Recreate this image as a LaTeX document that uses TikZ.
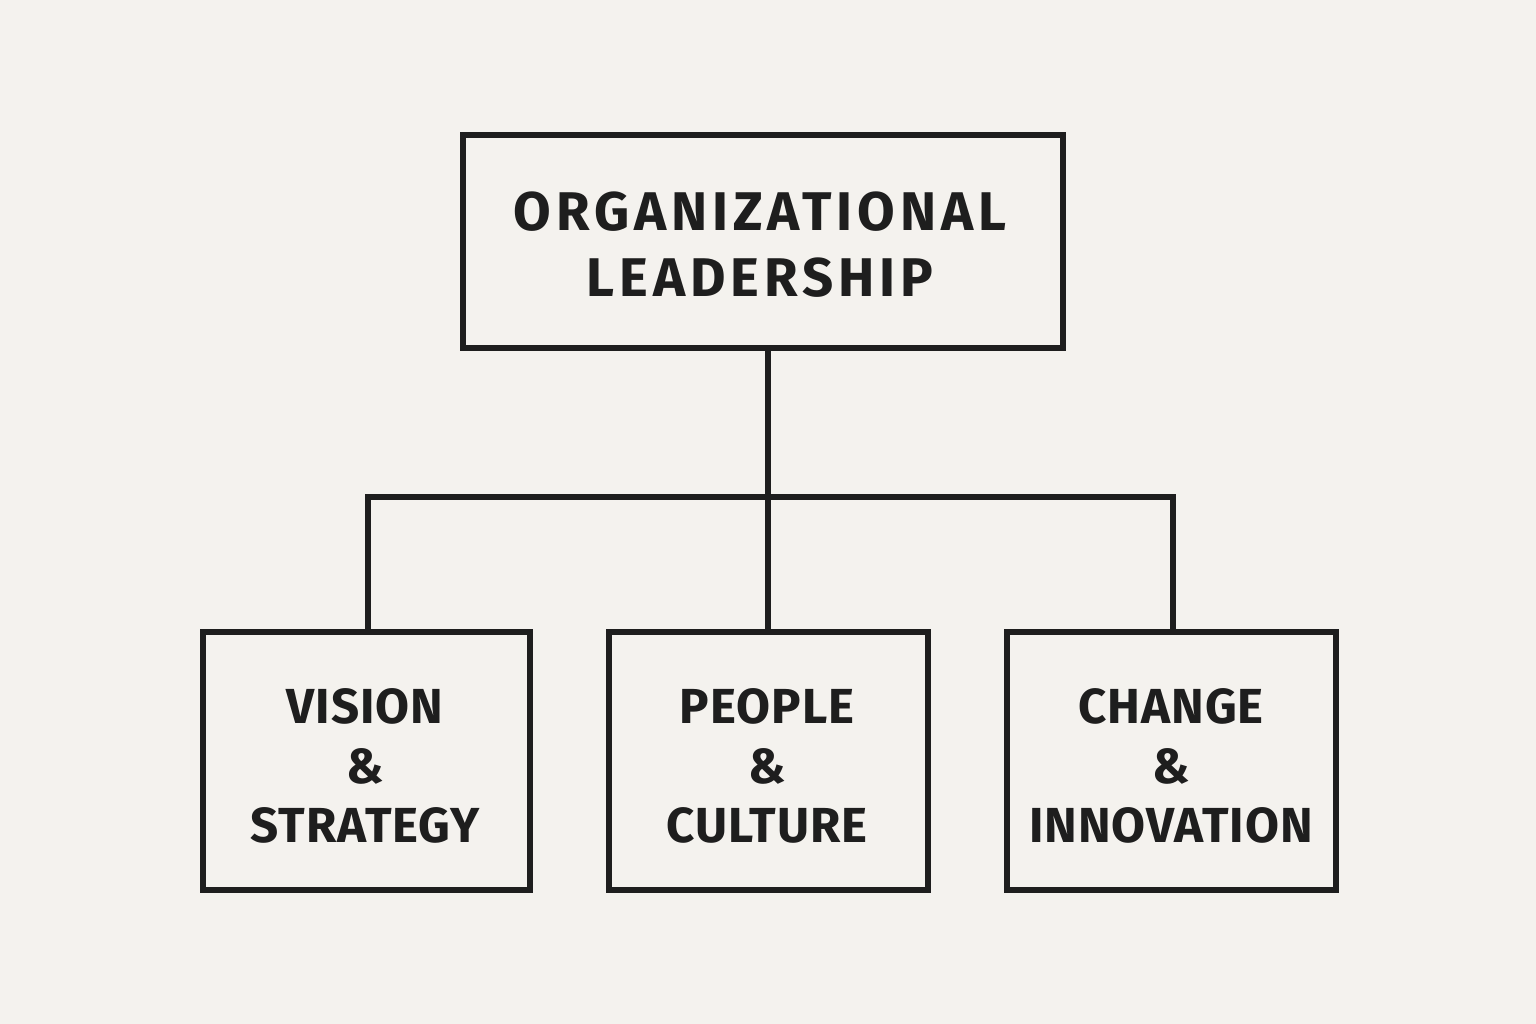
\documentclass[tikz,border=0pt]{standalone}
\usepackage{fontspec}
\newfontfamily\topfont[LetterSpace=9]{Fira Sans}
\newfontfamily\subfont[LetterSpace=2]{Fira Sans}
\definecolor{bg}{HTML}{F4F2EE}
\definecolor{ink}{HTML}{1E1E1E}
\begin{document}
\begin{tikzpicture}[x=0.01cm,y=-0.01cm,
  wire/.style={draw=ink,line width=1.5pt},
  toplbl/.style={font=\topfont\bfseries\fontsize{15.5}{18.8}\selectfont,text=ink,align=center,inner sep=0pt},
  sublbl/.style={font=\subfont\bfseries\fontsize{14}{17}\selectfont,text=ink,align=center,inner sep=0pt}]
\fill[bg] (0,0) rectangle (1536,1024);
\useasboundingbox (0,0) rectangle (1536,1024);
% top box
\draw[wire] (463,135) rectangle (1063,348);
\node[toplbl] (top) at (760,245) {ORGANIZATIONAL\\LEADERSHIP};
\coordinate (tb) at (768,348);
% bottom boxes
\draw[wire] (203,632) rectangle (530,890);
\draw[wire] (609,632) rectangle (928,890);
\draw[wire] (1007,632) rectangle (1336,890);
\coordinate (la) at (368,632);
\coordinate (ma) at (768,632);
\coordinate (ra) at (1173,632);
\node[sublbl] (v) at (365,766) {VISION\\\&\\STRATEGY};
\node[sublbl] (p) at (767,766) {PEOPLE\\\&\\CULTURE};
\node[sublbl] (c) at (1171,766) {CHANGE\\\&\\INNOVATION};
% connectors
\coordinate (j) at (768,497);
\coordinate (jl) at (368,497);
\coordinate (jr) at (1173,497);
\draw[wire] (tb) -- (j);
\draw[wire,line join=miter] (la) -- (jl) -- (jr) -- (ra);
\draw[wire] (j) -- (ma);
\end{tikzpicture}
\end{document}
